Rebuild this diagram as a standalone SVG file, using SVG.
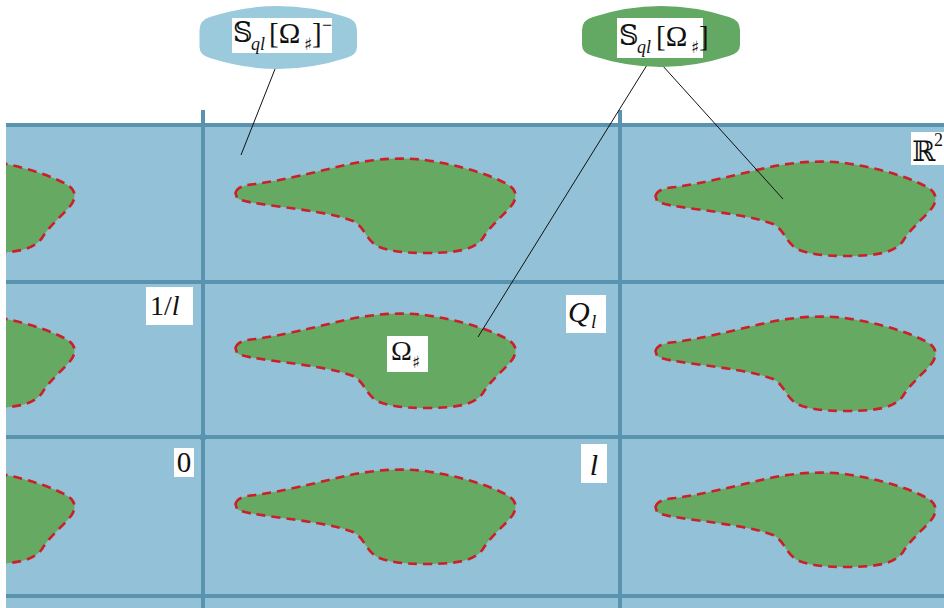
<svg xmlns="http://www.w3.org/2000/svg" xmlns:xlink="http://www.w3.org/1999/xlink" width="944" height="608" viewBox="0 0 944 608">
<style>
.grid{stroke:#5a93b0;stroke-width:4;fill:none}
.blob{fill:#65a963;stroke:#cc1f2a;stroke-width:2.6;stroke-dasharray:9 6}
.conn{stroke:#111;stroke-width:1;fill:none}
.lbl{fill:#fff}
.m{font-family:"Liberation Serif","DejaVu Serif",serif;fill:#111}
.ds{font-family:"DejaVu Serif","DejaVu Sans",serif;fill:#111}
.sh{font-family:"DejaVu Sans",sans-serif;fill:#111}
.it{font-style:italic}
</style>
<defs>
<path id="blob" d="M 0.5,35 C 2,29 10,27 20,26 C 45,23 80,14 115,6 C 140,1 165,-1 190,2 C 225,7 260,18 275,28 C 282,33 282,40 277,47 C 268,58 255,68 248,80 C 240,92 220,95 192,95 C 165,95 145,92 138,85 C 130,78 128,68 118,63 C 100,56 70,52 40,48 C 20,45 8,44 2,40 Z"/>
<clipPath id="area"><rect x="6" y="125" width="938" height="483"/></clipPath>
</defs>
<rect x="0" y="0" width="944" height="608" fill="#fff"/>
<rect id="plane" x="6" y="125" width="938" height="483" fill="#93c2d8"/>
<g id="grid">
<line class="grid" x1="6" y1="125" x2="944" y2="125"/>
<line class="grid" x1="6" y1="282" x2="944" y2="282"/>
<line class="grid" x1="6" y1="437" x2="944" y2="437"/>
<line class="grid" x1="6" y1="596" x2="944" y2="596"/>
<line class="grid" x1="203" y1="110" x2="203" y2="608"/>
<line class="grid" x1="620" y1="110" x2="620" y2="608"/>
<circle cx="203" cy="437" r="3.5" fill="#5a93b0"/>
</g>
<g id="shapes" clip-path="url(#area)">
<use xlink:href="#blob" class="blob" transform="translate(-206,158)"/>
<use xlink:href="#blob" class="blob" transform="translate(235,158)"/>
<use xlink:href="#blob" class="blob" transform="translate(655,161)"/>
<use xlink:href="#blob" class="blob" transform="translate(-206,313)"/>
<use xlink:href="#blob" class="blob" transform="translate(235,313)"/>
<use xlink:href="#blob" class="blob" transform="translate(655,316)"/>
<use xlink:href="#blob" class="blob" transform="translate(-206,469)"/>
<use xlink:href="#blob" class="blob" transform="translate(235,469)"/>
<use xlink:href="#blob" class="blob" transform="translate(655,472)"/>
</g>
<g id="connectors">
<line class="conn" x1="277" y1="64" x2="241" y2="155"/>
<line class="conn" x1="647" y1="65" x2="478" y2="337"/>
<line class="conn" x1="662" y1="65" x2="783" y2="199"/>
</g>
<g id="node-S-minus">
<path d="M 199.5,30 Q 199.5,20 210,17 Q 278,-5 346,17 Q 357,20 357,30 L 357,47 Q 357,55 346,58 Q 278,80 210,58 Q 199.5,55 199.5,47 Z" fill="#9ccadd"/>
<rect class="lbl" x="232" y="18" width="100" height="35"/>
<text x="233" y="42" class="ds" font-size="27">𝕊</text>
<text x="251" y="50" class="m it" font-size="18">ql</text>
<text x="269" y="43" class="m" font-size="29">[Ω</text>
<text x="304" y="50" class="sh" font-size="17">♯</text>
<text x="312" y="43" class="m" font-size="29">]</text>
<text x="322" y="31" class="m" font-size="18">−</text>
</g>
<g id="node-S">
<path d="M 582,30 Q 582,20 593,17 Q 661,-5 729,17 Q 740,20 740,30 L 740,45 Q 740,53 729,56 Q 661,78 593,56 Q 582,53 582,45 Z" fill="#63a863"/>
<rect class="lbl" x="617" y="18" width="86" height="40"/>
<text x="619" y="45" class="ds" font-size="27">𝕊</text>
<text x="637" y="53" class="m it" font-size="18">ql</text>
<text x="656" y="46" class="m" font-size="29">[Ω</text>
<text x="691" y="53" class="sh" font-size="17">♯</text>
<text x="699" y="46" class="m" font-size="29">]</text>
</g>
<g id="label-1l">
<rect class="lbl" x="146" y="287" width="47" height="38"/>
<text x="150" y="315" class="m" font-size="28">1/<tspan class="it">l</tspan></text>
</g>
<g id="label-Ql">
<rect class="lbl" x="566" y="295" width="40" height="38"/>
<text x="568" y="322" class="m it" font-size="30">Q</text>
<text x="591" y="328" class="m it" font-size="19">l</text>
</g>
<g id="label-Omega">
<rect class="lbl" x="387" y="336" width="41" height="36"/>
<text x="391" y="360" class="m" font-size="28">Ω</text>
<text x="412" y="368" class="sh" font-size="17">♯</text>
</g>
<g id="label-0">
<rect class="lbl" x="174" y="448" width="20" height="29"/>
<text x="184" y="472" class="m" font-size="29" text-anchor="middle">0</text>
</g>
<g id="label-l">
<rect class="lbl" x="581" y="444" width="26" height="39"/>
<text x="594" y="475" class="m it" font-size="30" text-anchor="middle">l</text>
</g>
<g id="label-R2">
<rect class="lbl" x="911" y="132" width="33" height="33"/>
<text x="912" y="161" class="ds" font-size="28">ℝ</text>
<text x="934" y="146" class="m" font-size="18">2</text>
</g>
</svg>
